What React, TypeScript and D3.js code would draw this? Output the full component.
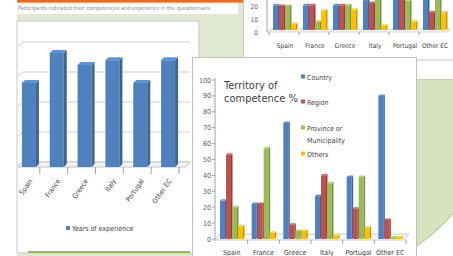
import React, { useEffect } from "react"
import * as d3 from "d3"

// categories shared by the three charts
const countries = ["Spain", "France", "Greece", "Italy", "Portugal", "Other EC"]

// main chart: territory of competence %
const seriesNames = ["Country", "Region", "Province or Municipality", "Others"]
const seriesColors = ["#4f81bd", "#c0504d", "#9bbb59", "#ffc000"]
const countryShare = [24, 22, 73, 27, 39, 90]
const regionShare = [53, 22, 9, 40, 19, 12]
const provinceShare = [20, 57, 5, 35, 39, 1]
const othersShare = [8, 4, 5, 2, 7, 1]
const territoryTicks = [0, 10, 20, 30, 40, 50, 60, 70, 80, 90, 100]

// left chart: years of experience
const yearsOfExperience = [14, 19, 17, 17.8, 14, 17.8]
const yearsTicks = [0, 5, 10, 15, 20]

// top right chart (cut off at the top of the picture)
const topCountry = [19, 19, 19, 23, 26, 27]
const topRegion = [18.5, 19, 19, 20.8, 25, 13.6]
const topProvince = [18.5, 6.4, 19, 26, 22.5, 26]
const topOthers = [4.6, 14.8, 15.6, 3.3, 6.4, 13.6]
const topTicks = [0, 10, 20]

const FONT = "'Liberation Sans Narrow', 'DejaVu Sans Condensed', 'Liberation Sans', sans-serif"

function Bar3D({ x, y, w, h, d, color }: { x: number; y: number; w: number; h: number; d: number; color: string }) {
  const c = d3.color(color)!
  const side = c.darker(0.7).formatHex()
  const top = c.brighter(0.4).formatHex()
  return (
    <g>
      <rect x={x} y={y} width={w} height={Math.max(0, h)} fill={color} />
      <path d={`M${x + w},${y}L${x + w + d},${y - d}L${x + w + d},${y + h - d}L${x + w},${y + h}Z`} fill={side} />
      <path d={`M${x},${y}L${x + d},${y - d}L${x + w + d},${y - d}L${x + w},${y}Z`} fill={top} />
    </g>
  )
}

function LeftChart() {
  const x = d3.scaleBand().domain(countries).range([15, 182])
  const y = d3.scaleLinear().domain([0, 20]).range([167, 47])
  const bw = 14
  return (
    <g>
      <rect x={17} y={21} width={182} height={232} fill="#ffffff" stroke="#c8c8c8" />
      <line x1={28} x2={190} y1={252} y2={252} stroke="#9bbb59" strokeWidth={2} />
      <clipPath id="leftClip"><rect x={17.5} y={21.5} width={181} height={231} /></clipPath>
      <g clipPath="url(#leftClip)">
        {yearsTicks.map(t => (
          <polyline key={t} points={`18,${y(t) - 1} 23,${y(t) - 5} 190,${y(t) - 5}`} fill="none" stroke="#cfcfcf" />
        ))}
        <path d="M18,167L185,167L190,162L23,162Z" fill="#f4f4f4" stroke="#c4c4c4" />
        {countries.map(c => (
          <line key={c} x1={x(c)! + x.step() - 3} x2={x(c)! + x.step() - 3} y1={167} y2={174} stroke="#a0a0a0" />
        ))}
        {countries.map((c, i) => (
          <Bar3D key={c} x={x(c)! + x.bandwidth() / 2 - bw / 2} y={y(yearsOfExperience[i])} w={bw} h={167 - y(yearsOfExperience[i])} d={3} color="#4f81bd" />
        ))}
        {countries.map(c => {
          const cx = x(c)! + x.bandwidth() / 2 + 4
          return (
            <text key={c} transform={`translate(${cx},181) rotate(-55)`} textAnchor="end" fontSize={7} fill="#404040" fontFamily={FONT}>{c}</text>
          )
        })}
        <rect x={66} y={226} width={4} height={4} fill="#4f81bd" />
        <text x={72} y={231} fontSize={7} fill="#404040" fontFamily={FONT}>Years of experience</text>
      </g>
    </g>
  )
}

function TopRightChart() {
  const x = d3.scaleBand().domain(countries).range([270, 450])
  const xs = d3.scaleBand().domain(seriesNames).range([3, 27])
  const y = d3.scaleLinear().domain([0, 20]).range([30, 4])
  const series = [topCountry, topRegion, topProvince, topOthers]
  return (
    <g>
      <rect x={243.5} y={-2} width={212} height={62} fill="#ffffff" stroke="#c8c8c8" />
      <clipPath id="topClip"><rect x={244} y={0} width={209} height={59} /></clipPath>
      <g clipPath="url(#topClip)">
        <line x1={267} x2={267} y1={0} y2={32} stroke="#a0a0a0" />
        {topTicks.map(t => (
          <text key={t} x={258} y={y(t) + 5} textAnchor="end" fontSize={6.5} fill="#595959" fontFamily={FONT}>{t}</text>
        ))}
        <path d="M267,32L447,32L451,29L271,29Z" fill="#f4f4f4" stroke="#c4c4c4" strokeWidth={0.7} />
        {countries.map(c => (
          <line key={c} x1={x(c)! - 1} x2={x(c)! - 1} y1={32} y2={35} stroke="#a0a0a0" />
        ))}
        {countries.map((c, i) => (
          <g key={c}>
            {series.map((s, k) => (
              <Bar3D key={k} x={x(c)! + xs(seriesNames[k])!} y={y(s[i])} w={5} h={y(0) - y(s[i])} d={1.5} color={seriesColors[k]} />
            ))}
            <text x={x(c)! + x.bandwidth() / 2} y={48} textAnchor="middle" fontSize={6.5} fill="#404040" fontFamily={FONT}>{c}</text>
          </g>
        ))}
      </g>
    </g>
  )
}

function MainChart() {
  const x = d3.scaleBand().domain(countries).range([216, 406])
  const xs = d3.scaleBand().domain(seriesNames).range([4, 28])
  const y = d3.scaleLinear().domain([0, 100]).range([239, 80])
  const series = [countryShare, regionShare, provinceShare, othersShare]
  const legendRows = [{ k: 0, y: 77, lines: ["Country"] }, { k: 1, y: 102, lines: ["Region"] }, { k: 2, y: 128, lines: ["Province or", "Municipality"] }, { k: 3, y: 154, lines: ["Others"] }]
  return (
    <g>
      <rect x={192.5} y={57.5} width={224} height={205} fill="#ffffff" stroke="#c0c0c0" />
      <line x1={215} x2={215} y1={78} y2={241} stroke="#a0a0a0" />
      {territoryTicks.map(t => (
        <g key={t}>
          <line x1={212} x2={215} y1={y(t)} y2={y(t)} stroke="#a0a0a0" />
          <text x={211} y={y(t) + 2.5} textAnchor="end" fontSize={7} fill="#595959" fontFamily={FONT}>{t}</text>
        </g>
      ))}
      <path d="M215,240L404,240L409,234L220,234Z" fill="#f6f6f6" stroke="#c4c4c4" strokeWidth={0.8} />
      {countries.map(c => (
        <line key={c} x1={x(c)! + x.step()} x2={x(c)! + x.step()} y1={240} y2={244} stroke="#a0a0a0" />
      ))}
      {countries.map((c, i) => (
        <g key={c}>
          {series.map((s, k) => (
            <Bar3D key={k} x={x(c)! + xs(seriesNames[k])!} y={y(s[i])} w={5} h={y(0) - y(s[i])} d={1.5} color={seriesColors[k]} />
          ))}
          <text x={x(c)! + x.bandwidth() / 2} y={254.5} textAnchor="middle" fontSize={7} fill="#404040" fontFamily={FONT}>{c}</text>
        </g>
      ))}
      <text x={224} y={89} fontSize={11} fill="#404040" fontFamily={FONT}>Territory of</text>
      <text x={224} y={102} fontSize={11} fill="#404040" fontFamily={FONT}>competence %</text>
      {legendRows.map(r => (
        <g key={r.k}>
          <rect x={301} y={r.y - 2.5} width={4} height={4} fill={seriesColors[r.k]} />
          {r.lines.map((l, j) => (
            <text key={j} x={307} y={r.y + 2.5 + j * 12} fontSize={7} fill="#404040" fontFamily={FONT}>{l}</text>
          ))}
        </g>
      ))}
    </g>
  )
}

export default function App() {
  useEffect(() => {
    document.body.style.margin = "0"
  }, [])
  return (
    <svg width={453} height={256} style={{ display: "block" }}>
      <rect width={453} height={256} fill="#ffffff" />
      {/* slide background pieces */}
      <rect x={17} y={0} width={228} height={256} fill="#e2e9d2" />
      <rect x={17} y={3} width={221} height={11} fill="#ffffff" />
      <text x={18} y={9.5} fontSize={5.5} fill="#8a8a8a" fontFamily={FONT}>Participants indicated their competences and experience in the questionnaire</text>
      <path d="M17,0L340,0Q346,0 348,4L345,3Q343,2.5 340,2.5L17,2.5Z" fill="#f0681e" />
      <LeftChart />
      <TopRightChart />
      <clipPath id="circleClip"><rect x={416} y={79} width={40} height={180} /></clipPath>
      <g clipPath="url(#circleClip)">
        <circle cx={320} cy={100} r={175} fill="#d7e3bf" stroke="#a8c088" strokeWidth={1} />
        <line x1={416} x2={453} y1={79.5} y2={79.5} stroke="#c4d0ae" />
      </g>
      <MainChart />
    </svg>
  )
}
